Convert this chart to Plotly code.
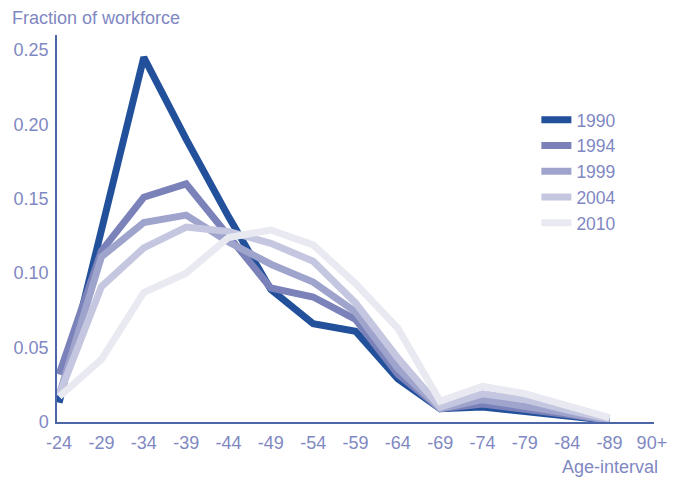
import plotly.graph_objects as go

age_labels = ['-24', '-29', '-34', '-39', '-44', '-49', '-54', '-59', '-64',
              '-69', '-74', '-79', '-84', '-89', '90+']

years = ['1990', '1994', '1999', '2004', '2010']

share_1990 = [0.013, 0.128, 0.245, 0.190, 0.138, 0.089, 0.066, 0.061, 0.029,
              0.009, 0.010, 0.007, 0.004, 0.001]
share_1994 = [0.032, 0.115, 0.151, 0.160, 0.125, 0.090, 0.084, 0.069, 0.032,
              0.009, 0.012, 0.009, 0.005, 0.001]
share_1999 = [0.018, 0.111, 0.134, 0.139, 0.121, 0.106, 0.094, 0.074, 0.036,
              0.009, 0.015, 0.011, 0.006, 0.001]
share_2004 = [0.018, 0.091, 0.117, 0.131, 0.128, 0.120, 0.108, 0.080, 0.043,
              0.010, 0.019, 0.015, 0.008, 0.002]
share_2010 = [0.017, 0.042, 0.087, 0.100, 0.124, 0.129, 0.119, 0.093, 0.063,
              0.014, 0.024, 0.019, 0.011, 0.003]

y_ticks = [0, 0.05, 0.10, 0.15, 0.20, 0.25]
y_ticktext = ['0', '0.05', '0.10', '0.15', '0.20', '0.25']

colors = ['#22509b', '#7a82b9', '#9fa4cd', '#c5c7e0', '#e9e9f2']
text_color = '#7f88c2'
axis_color = '#4d66a8'
font_family = 'Liberation Sans, Arial, sans-serif'

# the page body has an 8px margin, so the figure is drawn 8px smaller
W, H, OFF = 682, 478, 8

series = [share_1990, share_1994, share_1999, share_2004, share_2010]
x_pos = list(range(len(age_labels)))

fig = go.Figure()
for year, vals, col in zip(years, series, colors):
    fig.add_trace(go.Scatter(
        x=x_pos[:len(vals)], y=vals, mode='lines', name=year,
        line=dict(color=col, width=7),
    ))

fig.update_layout(
    width=W - OFF, height=H - OFF,
    margin=dict(l=57 - OFF, r=28, t=35 - OFF, b=56),
    paper_bgcolor='white', plot_bgcolor='white',
    font=dict(family=font_family, size=18, color=text_color),
    showlegend=True,
    legend=dict(
        x=0.803, y=0.827, xanchor='left', yanchor='top',
        font=dict(size=17.5, color=text_color),
        bgcolor='rgba(0,0,0,0)', tracegroupgap=0,
    ),
    title=dict(
        text='Fraction of workforce', x=(12 - OFF) / (W - OFF), xanchor='left',
        y=1 - (18 - OFF) / (H - OFF), yanchor='middle',
        xref='container', yref='container',
        font=dict(size=18, color=text_color),
    ),
)

fig.update_xaxes(
    range=[-0.05, 14.05], tickvals=x_pos, ticktext=age_labels,
    showgrid=False, zeroline=False, showline=True, linecolor=axis_color,
    linewidth=1.5, ticks='', ticklabelstandoff=4, automargin=False,
    tickfont=dict(size=18, color=text_color),
)
fig.update_yaxes(
    range=[0, 0.26], tickvals=y_ticks, ticktext=y_ticktext,
    showgrid=False, zeroline=False, showline=True, linecolor=axis_color,
    linewidth=1.5, ticks='', ticklabelstandoff=3, automargin=False,
    tickfont=dict(size=18, color=text_color),
)

fig.add_annotation(
    text='Age-interval', xref='paper', yref='paper', x=1.01, y=-0.115,
    xanchor='right', yanchor='middle', showarrow=False,
    font=dict(size=18, color=text_color),
)

fig.write_html('out.html')
